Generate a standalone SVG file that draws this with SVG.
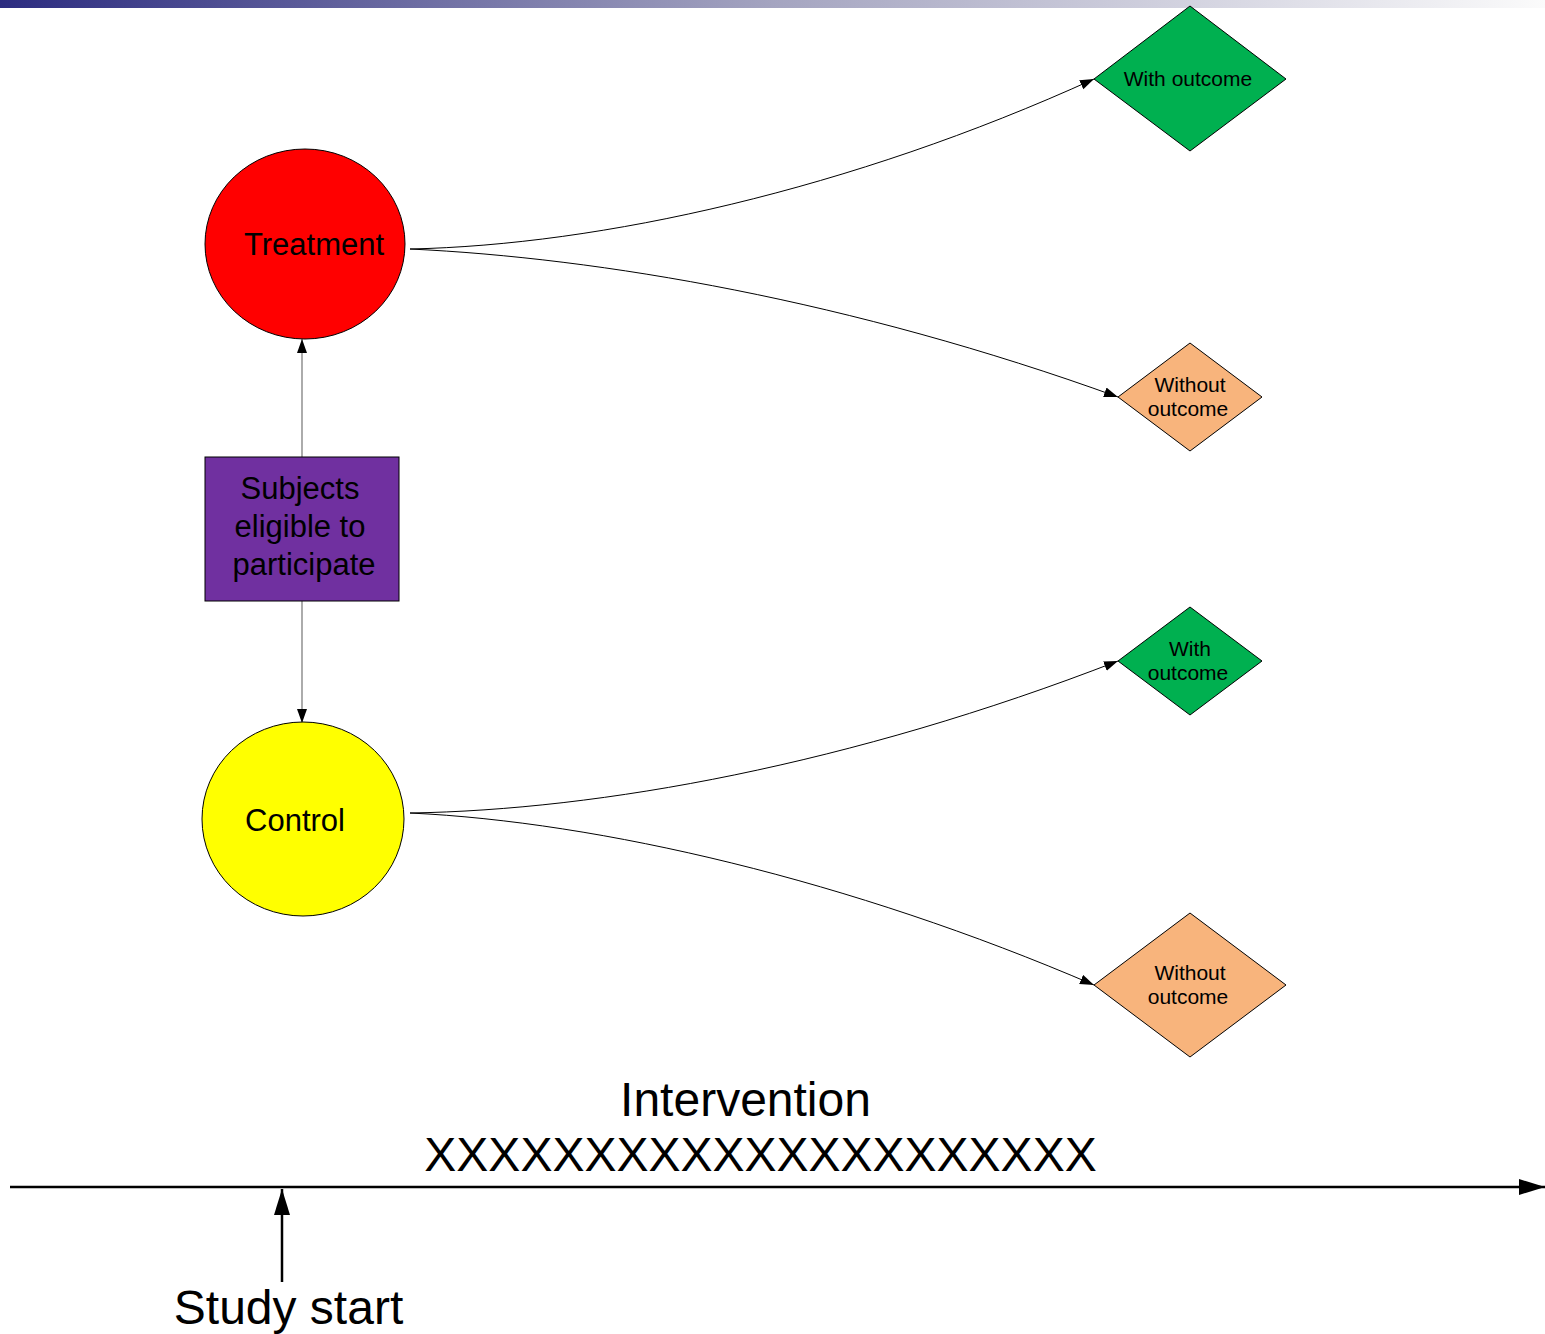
<svg xmlns="http://www.w3.org/2000/svg" width="1545" height="1334" viewBox="0 0 1545 1334">
<style>
text{font-family:"Liberation Sans",Arial,sans-serif;fill:#000}
.node{stroke:#000;stroke-width:1}
.conn{fill:none;stroke:#000;stroke-width:1}
.vconn{fill:none;stroke:#7f7f7f;stroke-width:1.3}
.big{font-size:48px}
.mid{font-size:31px}
.sm{font-size:21px}
</style>
<defs>
<linearGradient id="bar" x1="0" y1="0" x2="1" y2="0">
<stop offset="0" stop-color="#2c2c80"/>
<stop offset="0.5" stop-color="#a4a4c0"/>
<stop offset="1" stop-color="#fbfbfb"/>
</linearGradient>
<marker id="ah" markerUnits="userSpaceOnUse" markerWidth="16" markerHeight="12" refX="14" refY="5" orient="auto">
<path d="M0,0 L14,5 L0,10 Z" fill="#000"/>
</marker>
<marker id="bigah" markerUnits="userSpaceOnUse" markerWidth="28" markerHeight="20" refX="26" refY="8" orient="auto">
<path d="M0,0 L26,8 L0,16 Z" fill="#000"/>
</marker>
</defs>
<rect x="0" y="0" width="1545" height="8" fill="url(#bar)"/>

<g id="connectors">
<path class="vconn" d="M302,457 L302,339" marker-end="url(#ah)"/>
<path class="vconn" d="M302,601 L302,723" marker-end="url(#ah)"/>
<path class="conn" d="M410,249 C600,245 850,190 1094,79" marker-end="url(#ah)"/>
<path class="conn" d="M410,249 C600,258 850,300 1118,397" marker-end="url(#ah)"/>
<path class="conn" d="M410,813 C600,810 850,765 1118,661" marker-end="url(#ah)"/>
<path class="conn" d="M410,813 C600,822 850,880 1094,985" marker-end="url(#ah)"/>
</g>

<g id="treatment">
<ellipse class="node" cx="305" cy="244" rx="100" ry="95" fill="#ff0000"/>
<text class="mid" x="314" y="255" text-anchor="middle">Treatment</text>
</g>
<g id="subjects">
<rect class="node" x="205" y="457" width="194" height="144" fill="#7030a0" stroke="#555"/>
<text class="mid" x="300" y="499" text-anchor="middle">Subjects</text>
<text class="mid" x="300" y="537" text-anchor="middle">eligible to</text>
<text class="mid" x="304" y="575" text-anchor="middle">participate</text>
</g>
<g id="control">
<ellipse class="node" cx="303" cy="819" rx="101" ry="97" fill="#ffff00"/>
<text class="mid" x="295" y="831" text-anchor="middle">Control</text>
</g>
<g id="treat-with">
<path class="node" d="M1094,79 L1190,6 L1286,79 L1190,151 Z" fill="#00b050"/>
<text class="sm" x="1188" y="86" text-anchor="middle">With outcome</text>
</g>
<g id="treat-without">
<path class="node" d="M1118,397 L1190,343 L1262,397 L1190,451 Z" fill="#f8b47c"/>
<text class="sm" x="1190" y="392" text-anchor="middle">Without</text>
<text class="sm" x="1188" y="416" text-anchor="middle">outcome</text>
</g>
<g id="control-with">
<path class="node" d="M1118,661 L1190,607 L1262,661 L1190,715 Z" fill="#00b050"/>
<text class="sm" x="1190" y="656" text-anchor="middle">With</text>
<text class="sm" x="1188" y="680" text-anchor="middle">outcome</text>
</g>
<g id="control-without">
<path class="node" d="M1094,985 L1190,913 L1286,985 L1190,1057 Z" fill="#f8b47c"/>
<text class="sm" x="1190" y="980" text-anchor="middle">Without</text>
<text class="sm" x="1188" y="1004" text-anchor="middle">outcome</text>
</g>

<g id="timeline">
<path d="M10,1187 L1545,1187" stroke="#000" stroke-width="2.5" fill="none" marker-end="url(#bigah)"/>
<path d="M282,1282 L282,1189" stroke="#000" stroke-width="2.5" fill="none" marker-end="url(#bigah)"/>
<text class="big" x="745.5" y="1116" text-anchor="middle">Intervention</text>
<text class="big" x="760.5" y="1171" text-anchor="middle" font-size="47.5">XXXXXXXXXXXXXXXXXXXXX</text>
<text class="big" x="288.5" y="1324" text-anchor="middle">Study start</text>
</g>
</svg>
